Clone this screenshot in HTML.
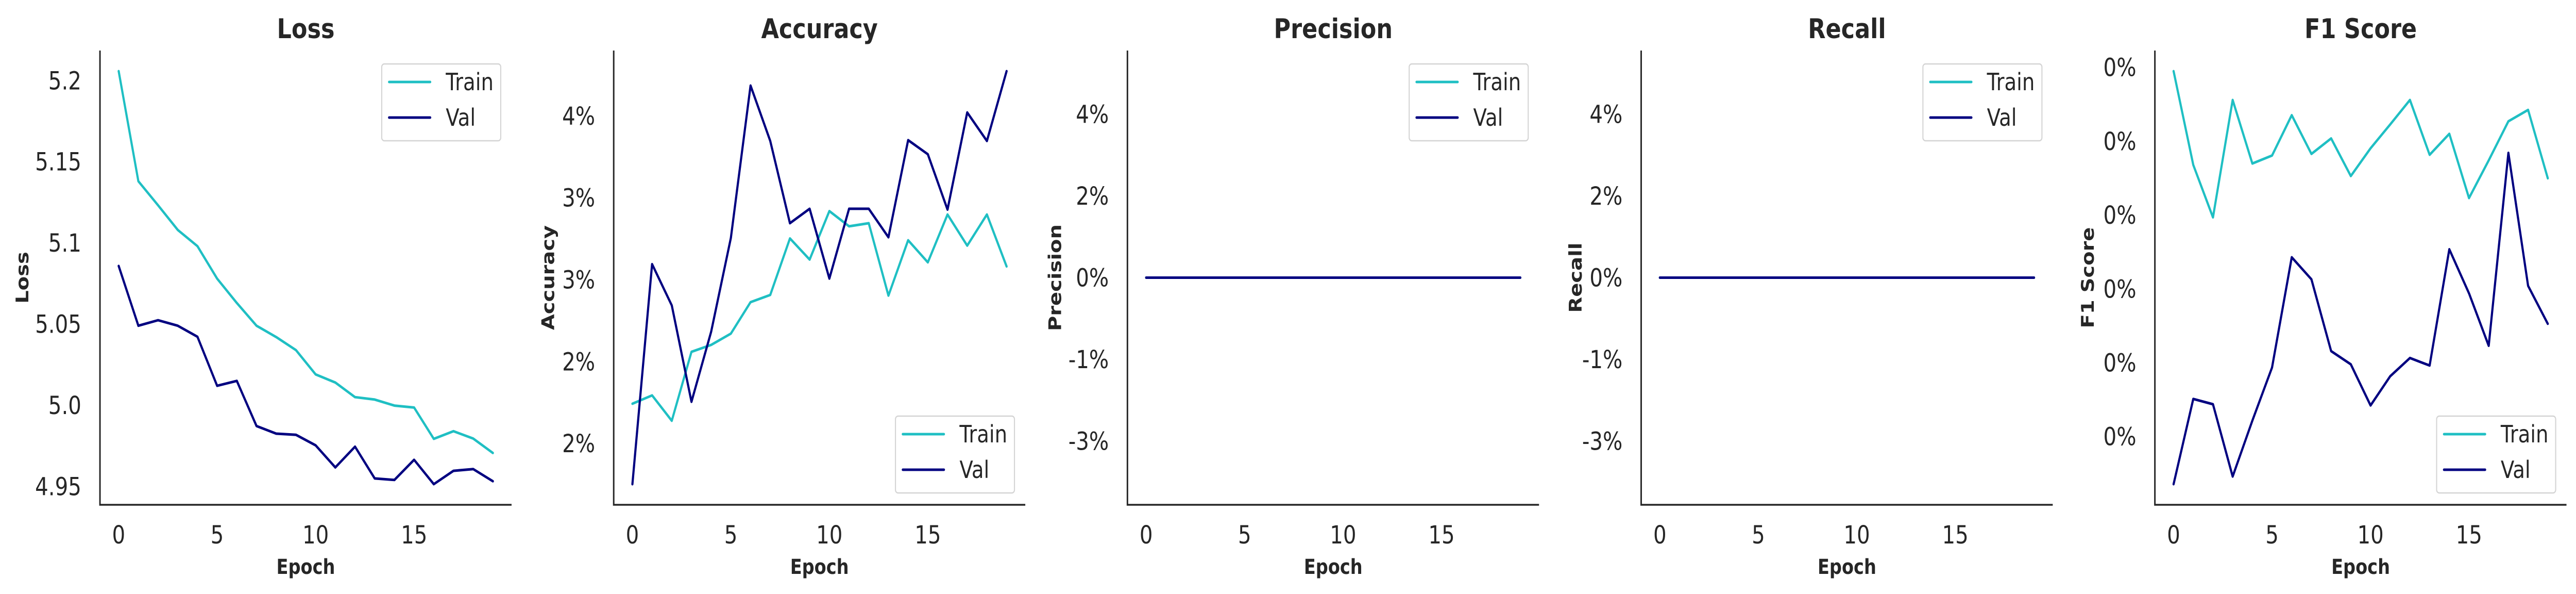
<!DOCTYPE html>
<html><head><meta charset="utf-8"><style>
html,body{margin:0;padding:0;background:#fff;width:100%;height:100%;overflow:hidden;}
svg{display:block;width:100vw;height:100vh;font-family:"DejaVu Sans","Liberation Sans",sans-serif;}
</style></head><body>
<svg id="chart" viewBox="0 0 5952 1152" preserveAspectRatio="none" xmlns="http://www.w3.org/2000/svg"></svg>
<script>
const epochs = [0,1,2,3,4,5,6,7,8,9,10,11,12,13,14,15,16,17,18,19];
const xTicks = [0,5,10,15];

const lossTrain = [5.2058,5.138,5.1232,5.108,5.098,5.078,5.063,5.049,5.042,5.034,5.019,5.014,5.005,5.0035,4.9998,4.9986,4.9793,4.984,4.9795,4.9706];
const lossVal = [5.0858,5.049,5.0524,5.049,5.0422,5.012,5.015,4.9872,4.9825,4.9818,4.9753,4.9617,4.9745,4.9549,4.954,4.9664,4.9514,4.9596,4.9607,4.9532];
const lossTicks = [4.95,5.0,5.05,5.1,5.15,5.2];
const lossTickLabels = ['4.95','5.0','5.05','5.1','5.15','5.2'];

const accTrain = [0.02243,0.02294,0.02139,0.0256,0.02602,0.02671,0.02863,0.02907,0.03252,0.03123,0.03419,0.03326,0.03345,0.02903,0.03241,0.03106,0.03398,0.03208,0.03398,0.03081];
const accVal = [0.01752,0.03095,0.02843,0.02255,0.02683,0.03255,0.04185,0.03847,0.03345,0.03433,0.03007,0.03433,0.03433,0.03259,0.03852,0.03766,0.03428,0.04021,0.03847,0.04273];
const accTicks = [0.02,0.025,0.03,0.035,0.04];
const accTickLabels = ['2%','2%','3%','3%','4%'];

const precTrain = [0,0,0,0,0,0,0,0,0,0,0,0,0,0,0,0,0,0,0,0];
const precVal = [0,0,0,0,0,0,0,0,0,0,0,0,0,0,0,0,0,0,0,0];
const recTrain = [0,0,0,0,0,0,0,0,0,0,0,0,0,0,0,0,0,0,0,0];
const recVal = [0,0,0,0,0,0,0,0,0,0,0,0,0,0,0,0,0,0,0,0];
const pctTicks = [-0.04,-0.02,0,0.02,0.04];
const pctTickLabels = ['-3%','-1%','0%','2%','4%'];

const f1Train = [0.002474,0.001839,0.001484,0.002279,0.001849,0.001903,0.002176,0.001914,0.002019,0.001764,0.001952,0.002114,0.002279,0.001908,0.00205,0.001615,0.00187,0.002135,0.002212,0.001749];
const f1Val = [-0.000322,0.000255,0.000219,-0.00027,0.000108,0.000468,0.001214,0.001065,0.000579,0.000489,0.000211,0.000409,0.000532,0.000481,0.001268,0.00097,0.000615,0.001921,0.001021,0.000764];
const f1Ticks = [0,0.0005,0.001,0.0015,0.002,0.0025];
const f1TickLabels = ['0%','0%','0%','0%','0%','0%'];

const NS = 'http://www.w3.org/2000/svg';
const svg = document.getElementById('chart');
const TOP = 98, BOTTOM = 979, W = 951;
const TEXT = '#262626', TRAIN_C = '#1fbfc3', VAL_C = '#000080';

function mk(tag, attrs, parent) {
  const e = document.createElementNS(NS, tag);
  for (const k in attrs) e.setAttribute(k, attrs[k]);
  parent.appendChild(e);
  return e;
}

const panels = [
  {key:'loss', title:'Loss', ylabel:'Loss', train:lossTrain, val:lossVal, ticks:lossTicks, labels:lossTickLabels, legend:'top', ylabOff:179},
  {key:'accuracy', title:'Accuracy', ylabel:'Accuracy', train:accTrain, val:accVal, ticks:accTicks, labels:accTickLabels, legend:'bottom', ylabOff:151},
  {key:'precision', title:'Precision', ylabel:'Precision', train:precTrain, val:precVal, ticks:pctTicks, labels:pctTickLabels, legend:'top', ylabOff:167, lim:[-0.0556,0.0556]},
  {key:'recall', title:'Recall', ylabel:'Recall', train:recTrain, val:recVal, ticks:pctTicks, labels:pctTickLabels, legend:'top', ylabOff:151, lim:[-0.0556,0.0556]},
  {key:'f1', title:'F1 Score', ylabel:'F1 Score', train:f1Train, val:f1Val, ticks:f1Ticks, labels:f1TickLabels, legend:'bottom', ylabOff:155}
];

panels.forEach((p, i) => {
  const L = 231 + i * 1187, R = L + W;
  const g = mk('g', {}, svg);
  
  

  const xmin = epochs[0], xmax = epochs[epochs.length - 1];
  const xm = (xmax - xmin) * 0.05;
  const xs = v => L + (v - (xmin - xm)) / ((xmax + xm) - (xmin - xm)) * W;
  let lo, hi;
  if (p.lim) { lo = p.lim[0]; hi = p.lim[1]; }
  else {
    const all = p.train.concat(p.val);
    const mn = Math.min(...all), mx = Math.max(...all), m = (mx - mn) * 0.05;
    lo = mn - m; hi = mx + m;
  }
  const ys = v => BOTTOM - (v - lo) / (hi - lo) * (BOTTOM - TOP);

  const title = mk('text', {x:(L+R)/2, y:74, 'text-anchor':'middle', 'font-size':53, 'font-weight':'bold', fill:TEXT}, g);
  title.textContent = p.title;
  
  

  const spines = mk('path', {d:`M${L},${TOP} L${L},${BOTTOM} L${R},${BOTTOM}`, fill:'none', stroke:TEXT, 'stroke-width':3.5}, g);
  
  

  p.ticks.forEach((t, j) => {
    const tx = mk('text', {x:L - 43, y:ys(t) + 17, 'text-anchor':'end', 'font-size':48, fill:TEXT}, g);
    tx.textContent = p.labels[j];
    
    
  });
  xTicks.forEach(t => {
    const tx = mk('text', {x:xs(t), y:1054, 'text-anchor':'middle', 'font-size':48, fill:TEXT}, g);
    tx.textContent = String(t);
    
    
  });

  const xl = mk('text', {x:(L+R)/2, y:1113, 'text-anchor':'middle', 'font-size':40, 'font-weight':'bold', fill:TEXT}, g);
  xl.textContent = 'Epoch';
  
  

  const yc = (TOP + BOTTOM) / 2, yx = L - p.ylabOff;
  const yl = mk('text', {x:yx, y:yc, 'text-anchor':'middle', 'dominant-baseline':'central', 'font-size':40, 'font-weight':'bold', fill:TEXT, transform:`rotate(-90 ${yx} ${yc})`}, g);
  yl.textContent = p.ylabel;
  
  

  [['train', p.train, TRAIN_C], ['val', p.val, VAL_C]].forEach(([nm, arr, col]) => {
    const pts = arr.map((v, k) => xs(epochs[k]).toFixed(1) + ',' + ys(v).toFixed(1)).join(' ');
    const pl = mk('polyline', {points:pts, fill:'none', stroke:col, 'stroke-width':5, 'stroke-linejoin':'round', 'stroke-linecap':'round'}, g);
    
    
  });

  const lw = 275, lh = 149;
  const lx = R - 25 - lw;
  const ly = p.legend === 'top' ? 124 : BOTTOM - 23 - lh;
  const lg = mk('g', {}, g);
  
  
  mk('rect', {x:lx, y:ly, width:lw, height:lh, rx:6, fill:'#fff', 'fill-opacity':0.8, stroke:'#d4d4d4', 'stroke-width':2.5}, lg);
  [['Train', TRAIN_C, 35], ['Val', VAL_C, 104]].forEach(([lab, col, dy]) => {
    const ln = mk('line', {x1:lx + 17, x2:lx + 112, y1:ly + dy, y2:ly + dy, stroke:col, 'stroke-width':5, 'stroke-linecap':'round'}, lg);
    
    
    const t = mk('text', {x:lx + 148, y:ly + dy + 16, 'font-size':46, fill:TEXT}, lg);
    t.textContent = lab;
    
    
  });
});
</script>
</body></html>
